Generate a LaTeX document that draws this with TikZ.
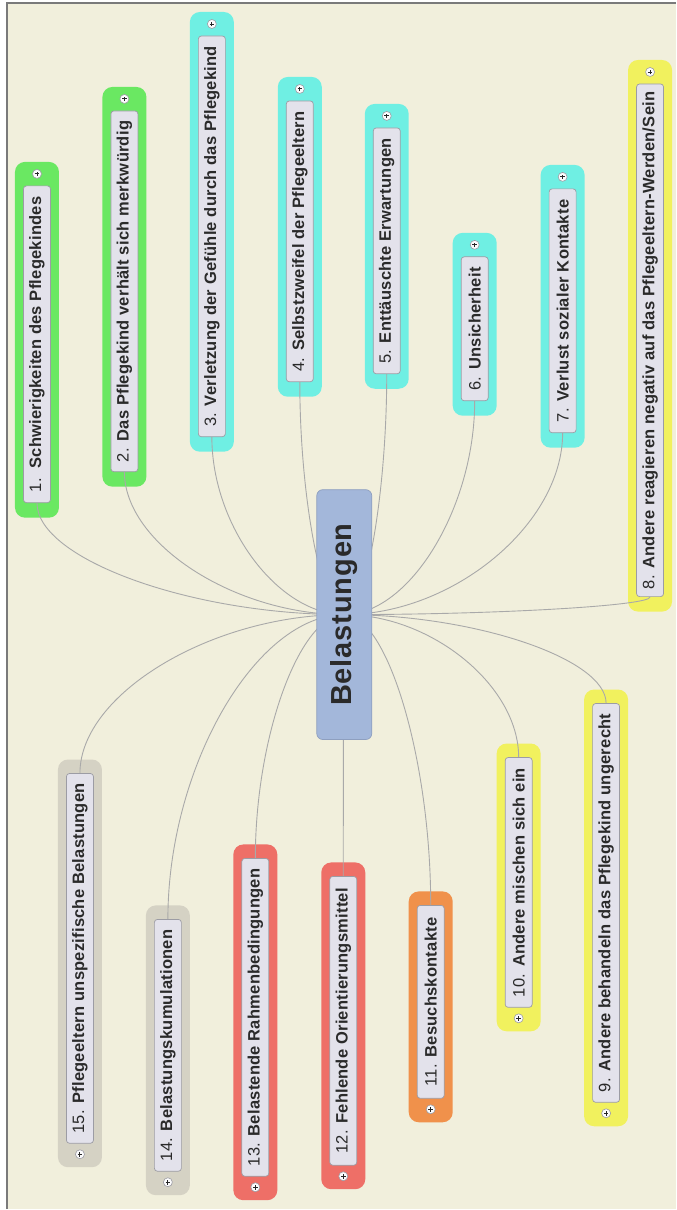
\documentclass[tikz,border=0pt]{standalone}
\usepackage{fontspec}
\setmainfont{Liberation Sans}
\newfontfamily\lblfont[LetterSpace=1.5]{Liberation Sans}
\newfontfamily\titlefont[LetterSpace=3]{Liberation Sans}
\usetikzlibrary{calc}
\pgfdeclarelayer{halo}
\pgfdeclarelayer{lines}
\pgfsetlayers{halo,lines,main}

\definecolor{bgcream}{HTML}{F1EFDC}
\definecolor{framecol}{HTML}{7A7A7A}
\definecolor{hgreen}{HTML}{6AE862}
\definecolor{hcyan}{HTML}{6FEFE3}
\definecolor{hyellow}{HTML}{F1F15E}
\definecolor{horange}{HTML}{F0914B}
\definecolor{hred}{HTML}{EE6F67}
\definecolor{hgray}{HTML}{D5D2C4}
\definecolor{itemfill}{HTML}{E3E2EB}
\definecolor{itemline}{HTML}{9C9CA4}
\definecolor{hubfill}{HTML}{A3B7DA}
\definecolor{hubline}{HTML}{8E9FBF}
\definecolor{linkcol}{HTML}{A9A9A9}
\definecolor{txt}{HTML}{2A2A2A}

\tikzset{
  halo/.style={rounded corners=10pt, minimum width=44pt, inner sep=0pt},
  item/.style={rotate=90, draw=itemline, line width=0.7pt, fill=itemfill,
    rounded corners=3pt, minimum height=27pt, inner sep=0pt, text=txt,
    font=\lblfont\fontsize{16.5}{19}\selectfont},
  plusmark/.style={circle, draw=itemline, line width=0.6pt, fill=white!90!itemfill,
    minimum size=9pt, inner sep=0pt,
    path picture={\draw[line width=0.9pt, black!85]
      ([xshift=-2.3pt]path picture bounding box.center) --
      ([xshift=2.3pt]path picture bounding box.center)
      ([yshift=-2.3pt]path picture bounding box.center) --
      ([yshift=2.3pt]path picture bounding box.center);}},
  conn/.style={draw=linkcol, line width=0.9pt},
  hub/.style={rotate=90, draw=hubline, line width=0.7pt, fill=hubfill,
    rounded corners=6pt, minimum width=250pt, minimum height=55pt,
    inner sep=0pt, text=txt, font=\titlefont\bfseries\fontsize{29}{32}\selectfont}
}

% branch above the hub: #1 id, #2 x, #3 top, #4 bottom, #5 colour, #6 label
\newcommand\branchup[6]{%
  \begin{pgfonlayer}{halo}
    \node[halo, fill=#5, minimum height={(#4-#3)*1pt}] (h#1) at (#2,{(#3+#4)/2}) {};
  \end{pgfonlayer}
  \node[item, minimum width={(#4-#3-39)*1pt}] (t#1) at (#2,{(#3+#4+9)/2}) {#6};
  \node[plusmark] (p#1) at (#2,#3+12) {};
  \begin{pgfonlayer}{lines}
    \draw[conn] (C.center) .. controls ($(C.center)!0.5!(C.center -| t#1.west)$)
      and ($(t#1.west)!0.5!(t#1.west |- C.center)$) .. (t#1.west);
  \end{pgfonlayer}
}
% branch below the hub
\newcommand\branchdown[6]{%
  \begin{pgfonlayer}{halo}
    \node[halo, fill=#5, minimum height={(#4-#3)*1pt}] (h#1) at (#2,{(#3+#4)/2}) {};
  \end{pgfonlayer}
  \node[item, minimum width={(#4-#3-38)*1pt}] (t#1) at (#2,{(#3+#4-10)/2}) {#6};
  \node[plusmark] (p#1) at (#2,#4-13) {};
  \begin{pgfonlayer}{lines}
    \draw[conn] (C.center) .. controls ($(C.center)!0.5!(C.center -| t#1.east)$)
      and ($(t#1.east)!0.5!(t#1.east |- C.center)$) .. (t#1.east);
  \end{pgfonlayer}
}

\begin{document}
\begin{tikzpicture}[x=1pt, y=-1pt]
  \begin{pgfonlayer}{halo}
    \fill[white] (0,0) rectangle (676,1210);
    \fill[bgcream] (6,2) rectangle (676,1210);
    \draw[framecol, line width=1.6pt] (6.8,1210) -- (6.8,2.8) -- (676,2.8);
  \end{pgfonlayer}
  \useasboundingbox (0,0) rectangle (676,1210);

  \node[hub] (C) at (344.5,615) {Belastungen};

  \branchup{1}{37}{162}{518}{hgreen}{1.\ \ \textbf{Schwierigkeiten des Pflegekindes}}
  \branchup{2}{124.5}{87}{487}{hgreen}{2. \textbf{Das Pflegekind verhält sich merkwürdig}}
  \branchup{3}{212}{12}{452}{hcyan}{3. \textbf{Verletzung der Gefühle durch das Pflegekind}}
  \branchup{4}{300}{77}{397}{hcyan}{4. \textbf{Selbstzweifel der Pflegeeltern}}
  \branchup{5}{387}{104}{389}{hcyan}{5. \textbf{Enttäuschte Erwartungen}}
  \branchup{6}{475}{233}{416}{hcyan}{6. \textbf{Unsicherheit}}
  \branchup{7}{563}{165}{448}{hcyan}{7. \textbf{Verlust sozialer Kontakte}}
  \branchup{8}{650.5}{60}{612}{hyellow}{8. \textbf{Andere reagieren negativ auf das Pflegeeltern-Werden/Sein}}

  \branchdown{9}{606.5}{690}{1127}{hyellow}{9. \textbf{Andere behandeln das Pflegekind ungerecht}}
  \branchdown{10}{519}{744}{1032}{hyellow}{10. \textbf{Andere mischen sich ein}}
  \branchdown{11}{431}{892}{1123}{horange}{11. \textbf{Besuchskontakte}}
  \branchdown{12}{343.5}{863}{1190}{hred}{12. \textbf{Fehlende Orientierungsmittel}}
  \branchdown{13}{255.5}{845}{1201}{hred}{13. \textbf{Belastende Rahmenbedingungen}}
  \branchdown{14}{168}{906}{1196}{hgray}{14. \textbf{Belastungskumulationen}}
  \branchdown{15}{80}{760}{1168}{hgray}{15. \textbf{Pflegeeltern unspezifische Belastungen}}
\end{tikzpicture}
\end{document}
